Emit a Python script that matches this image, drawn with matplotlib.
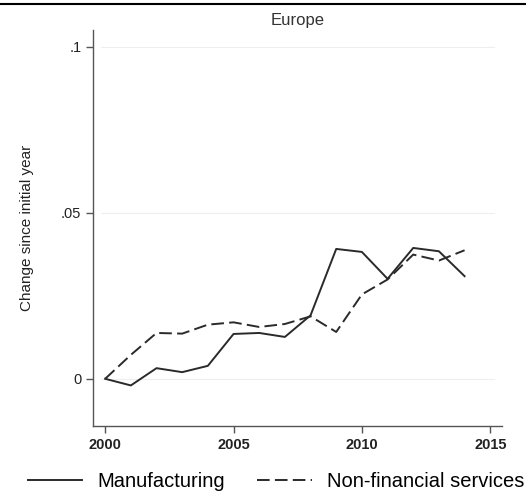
import matplotlib
matplotlib.use('Agg')
import matplotlib.pyplot as plt
from matplotlib.lines import Line2D

plt.rcParams['font.family'] = ['Liberation Sans', 'DejaVu Sans']

# Data
years = list(range(2000, 2015))
manufacturing = [0.0, -0.002, 0.0032, 0.002, 0.0039, 0.0135, 0.0138, 0.0126,
                 0.0191, 0.0391, 0.0382, 0.0301, 0.0394, 0.0384, 0.0309]
nonfin_services = [0.0, 0.0072, 0.0138, 0.0136, 0.0163, 0.017, 0.0156, 0.0165,
                   0.0188, 0.0141, 0.0254, 0.0299, 0.0374, 0.0356, 0.0387]
yticks = [0, 0.05, 0.1]
yticklabels = ['0', '.05', '.1']
xticks = [2000, 2005, 2010, 2015]

fig = plt.figure(figsize=(5.26, 4.93), dpi=100)
ax = fig.add_axes([0.177, 0.136, 0.777, 0.803])

ax.plot(years, manufacturing, color='#2a2a2a', lw=1.4, label='Manufacturing')
ax.plot(years, nonfin_services, color='#2a2a2a', lw=1.4, ls=(0, (6.5, 2.7)),
        label='Non-financial services')

ax.set_xlim(1999.53, 2015.45)
ax.set_ylim(-0.0142, 0.105)
ax.set_yticks(yticks)
ax.set_yticklabels(yticklabels)
ax.set_xticks(xticks)
for y in yticks:
    ax.axhline(y, xmin=0.02, xmax=0.98, color='#eeeeee', lw=0.8, zorder=0)

for s in ['top', 'right']:
    ax.spines[s].set_visible(False)
for s in ['left', 'bottom']:
    ax.spines[s].set_color('#555555')
    ax.spines[s].set_linewidth(1.0)
ax.tick_params(axis='both', colors='#555555', labelcolor='#222222',
               length=5, width=1.0, labelsize=10.5)
ax.tick_params(axis='x', pad=4, labelsize=10.5)
for lab in ax.get_xticklabels():
    lab.set_fontweight('bold')

ax.set_ylabel('Change since initial year', fontsize=11, color='#222222')
ax.yaxis.set_label_coords(-0.145, 0.5)
ax.set_title('Europe', fontsize=12, color='#333333', pad=4)

fig.legend(loc='lower center', bbox_to_anchor=(0.525, -0.032), ncol=2,
           frameon=False, fontsize=14.5, handlelength=2.7, columnspacing=1.6,
           handletextpad=0.75)

# cut-off heading line at the very top of the crop
fig.add_artist(Line2D([0, 1], [0.992, 0.992], color='black', lw=1.5,
                      transform=fig.transFigure))

fig.savefig('out.png', dpi=100)
